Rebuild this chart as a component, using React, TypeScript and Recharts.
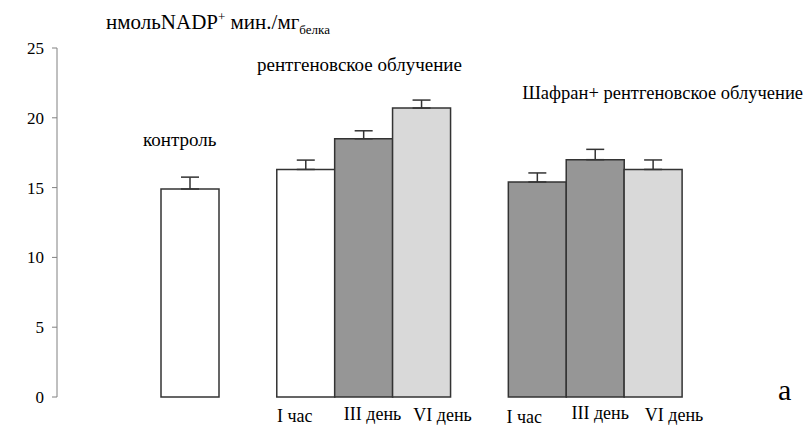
import React from "react";
import { BarChart, Bar, XAxis, YAxis, Cell, ErrorBar } from "recharts";

// bar slots; empty slots separate the three groups
const categories = ["", "", "I час", "III день", "VI день", "", "I час", "III день", "VI день"];
const values = [14.9, null, 16.3, 18.5, 20.7, null, 15.4, 17.0, 16.3];
const errors = [0.85, null, 0.67, 0.57, 0.57, null, 0.65, 0.74, 0.68];
const yTicks = [0, 5, 10, 15, 20, 25];

const fills = ["#ffffff", "none", "#ffffff", "#969696", "#d9d9d9", "none", "#969696", "#969696", "#d9d9d9"];
// label nudges relative to bar centre (labels sit a bit off-centre in the original)
const tickNudgeX = [0, 0, -11, 9, 21, 0, -13, 5, 21];
const tickNudgeY = [0, 0, 1, -1, 0, 0, 2, -2, 0];

const data = categories.map((name, i) => ({
  name,
  key: i,
  value: values[i],
  err: errors[i] == null ? null : [0, errors[i]],
}));

const serif = "Times New Roman, Liberation Serif, DejaVu Serif, serif";

function XTick(props: any) {
  const { x, y, payload } = props;
  const i = payload.value as number;
  return (
    <text
      x={x + tickNudgeX[i]}
      y={y + 16 + tickNudgeY[i]}
      textAnchor="middle"
      fontFamily={serif}
      fontSize={18}
      fill="#000"
    >
      {categories[i]}
    </text>
  );
}

const note: React.CSSProperties = {
  position: "absolute",
  fontFamily: serif,
  fontSize: 19,
  color: "#000",
  whiteSpace: "nowrap",
  lineHeight: 1,
};

export default function App() {
  return (
    <div style={{ position: "absolute", left: 0, top: 0, width: 806, height: 428, background: "#fff", fontFamily: serif }}>
      <BarChart
        width={806}
        height={428}
        data={data}
        margin={{ top: 48, right: 124, bottom: 0, left: 0 }}
        barCategoryGap={0}
        style={{ fontFamily: serif }}
      >
        <YAxis
          domain={[0, 25]}
          ticks={yTicks}
          width={57}
          tickSize={5}
          tickMargin={8}
          stroke="#808080"
          tick={{ fill: "#000", fontFamily: serif, fontSize: 17 }}
          interval={0}
        />
        <XAxis
          dataKey="key"
          height={31}
          axisLine={false}
          tickLine={false}
          padding={{ left: 104, right: 0 }}
          interval={0}
          tick={<XTick />}
        />
        <Bar dataKey="value" stroke="#333" strokeWidth={1.5} isAnimationActive={false}>
          {data.map((d, i) => (
            <Cell key={i} fill={fills[i]} />
          ))}
          <ErrorBar dataKey="err" width={9} stroke="#333" strokeWidth={1.5} direction="y" />
        </Bar>
      </BarChart>

      <div style={{ ...note, left: 106, top: 10, fontSize: 21 }}>
        нмольNADP<sup style={{ fontSize: 13, verticalAlign: 8 }}>+</sup> мин./мг
        <sub style={{ fontSize: 13, verticalAlign: -5 }}>белка</sub>
      </div>
      <div style={{ ...note, left: 143, top: 130 }}>контроль</div>
      <div style={{ ...note, left: 257, top: 55 }}>рентгеновское облучение</div>
      <div style={{ ...note, right: 3, top: 84, fontSize: 18.5 }}>Шафран+ рентгеновское облучение</div>
      <div style={{ ...note, left: 778, top: 375, fontSize: 30 }}>а</div>
    </div>
  );
}
